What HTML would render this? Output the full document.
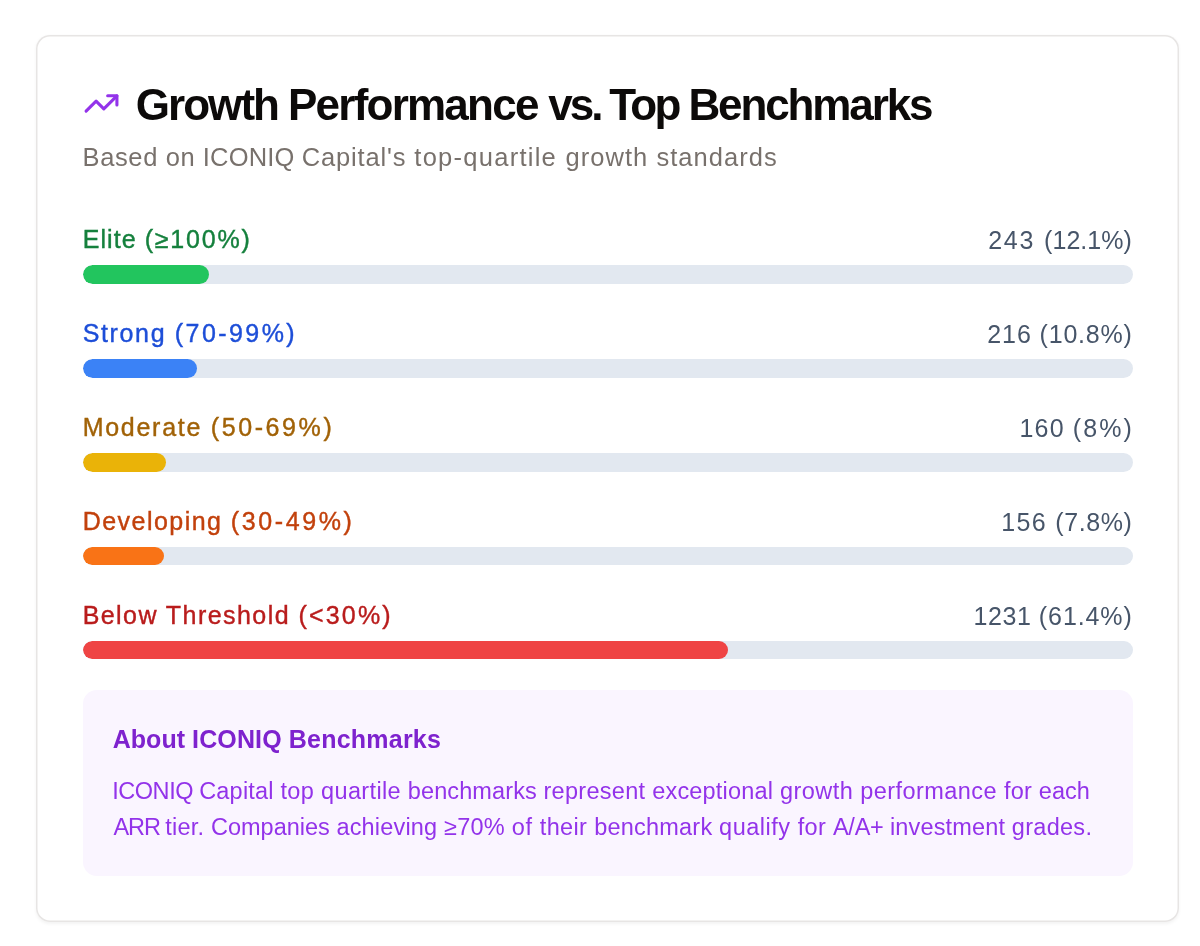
<!DOCTYPE html>
<html lang="en">
<head>
<meta charset="utf-8">
<title>Growth Performance vs. Top Benchmarks</title>
<style>
  html,body{margin:0;padding:0;background:#fff;}
  body{width:1200px;height:946px;overflow:hidden;font-family:"Liberation Sans",Arial,sans-serif;}
  .card{position:absolute;left:36px;top:35px;width:1143px;height:887px;box-sizing:border-box;border-radius:14px;background:#fff;box-shadow:inset 0 0 0 1.5px #e7e5e4, 0 1.75px 3.5px 0 rgba(0,0,0,.05);}
  .inner{position:absolute;left:46.65px;top:0;width:1050px;}
  .hdr{position:absolute;left:0;top:51px;height:36px;display:flex;align-items:center;white-space:nowrap;}
  .hdr svg{display:block;width:37px;height:37px;margin-right:17px;flex:none;position:relative;left:.1px;top:-.5px}
  h1{margin:0;font-size:44px;line-height:36px;font-weight:700;color:#0c0a09;position:relative;top:1px;left:0px}
  .sub{position:absolute;left:-0.11px;top:104px;margin:0;font-size:25.5px;line-height:36px;color:#78716c;white-space:nowrap;}
  .rows{position:absolute;left:0;top:187.3px;width:1050px;}
  .row{height:93.86px;}
  .lbl{display:flex;justify-content:space-between;align-items:baseline;height:35px;line-height:35px;font-size:25px;margin-bottom:8px;white-space:nowrap;}
  .lbl b{font-weight:400;-webkit-text-stroke:.4px currentColor;position:relative;left:0px}
  .lbl span{color:#475569;position:relative;left:-.8px;top:1px}
  .lbl i{font-style:normal}
  .track{height:18.6px;border-radius:9.5px;background:#e2e8f0;overflow:hidden;}
  .fill{height:100%;border-radius:9.5px;}
  .note{position:absolute;left:0;top:654.5px;width:1050px;height:186.2px;box-sizing:border-box;background:#faf5ff;border-radius:14px;}
  .note h4{margin:0;position:absolute;left:30.05px;top:31.4px;font-size:25px;line-height:36px;font-weight:700;color:#7e22ce;white-space:nowrap;}
  .note p{margin:0;position:absolute;left:29.53px;top:83.2px;font-size:23.5px;line-height:36.4px;color:#9333ea;white-space:nowrap;}
  #t1{letter-spacing:-1.93px;margin-left:-0.99px}
  #t2{letter-spacing:-1.77px;margin-left:-2.25px}
  #t3{letter-spacing:-2.91px;margin-left:-1.62px}
  #t4{letter-spacing:-2.6px;margin-left:-3.78px}
  #t5{letter-spacing:-2.11px;margin-left:-2.52px}
  #p2{position:relative;left:1.36px}
  .sub i,.note i{font-style:normal}
#sub_0{letter-spacing:0.62px}#sub_1{letter-spacing:0.59px}#sub_2{letter-spacing:0.16px}#sub_3{letter-spacing:0.85px}#sub_4{letter-spacing:1.26px}#sub_5{letter-spacing:1.07px}#sub_6{letter-spacing:1.02px}
#h4_0{letter-spacing:0.04px}#h4_1{letter-spacing:0.13px}#h4_2{letter-spacing:0.22px}
#p1_0{letter-spacing:-0.44px}#p1_1{letter-spacing:0.2px}#p1_2{letter-spacing:0.35px}#p1_3{letter-spacing:0.35px}#p1_4{letter-spacing:0.1px}#p1_5{letter-spacing:0.29px}#p1_6{letter-spacing:0.19px}#p1_7{letter-spacing:0.47px}#p1_8{letter-spacing:0.44px}#p1_9{letter-spacing:0.2px}#p1_10{letter-spacing:0.07px}
#p2_0{letter-spacing:-1.11px}#p2_1{letter-spacing:0.21px}#p2_2{letter-spacing:0.01px}#p2_3{letter-spacing:0.18px}#p2_4{letter-spacing:0.24px}#p2_5{letter-spacing:0.63px}#p2_6{letter-spacing:0.37px}#p2_7{letter-spacing:0.21px}#p2_8{letter-spacing:0.51px}#p2_9{letter-spacing:0.32px}#p2_10{letter-spacing:-0.22px}#p2_11{letter-spacing:0.16px}#p2_12{letter-spacing:0.28px}
  #l1a{letter-spacing:1.09px} #l1b{letter-spacing:1.78px}
  #l2a{letter-spacing:1.65px} #l2b{letter-spacing:2.43px}
  #l3a{letter-spacing:1.73px} #l3b{letter-spacing:2.59px}
  #l4a{letter-spacing:1.47px} #l4b{letter-spacing:2.6px}
  #l5a{letter-spacing:1.44px} #l5b{letter-spacing:2.2px}
  #v1a{letter-spacing:1.83px} #v1b{letter-spacing:0.03px;margin-right:calc(-1 * 0.03px)}
  #v2a{letter-spacing:0.94px} #v2b{letter-spacing:0.78px;margin-right:calc(-1 * 0.78px)}
  #v3a{letter-spacing:1.15px} #v3b{letter-spacing:2.07px;margin-right:calc(-1 * 2.07px)}
  #v4a{letter-spacing:1.3px} #v4b{letter-spacing:0.6px;margin-right:calc(-1 * 0.6px)}
  #v5a{letter-spacing:0.54px} #v5b{letter-spacing:0.91px;margin-right:calc(-1 * 0.91px)}
</style>
</head>
<body>
<div class="card">
 <div class="inner">
  <div class="hdr">
    <svg viewBox="0 0 24 24" fill="none" stroke="#9333ea" stroke-width="2" stroke-linecap="round" stroke-linejoin="round"><polyline points="22 7 13.5 15.5 8.5 10.5 2 17"/><polyline points="16 7 22 7 22 13"/></svg>
    <h1 id="title"><span id="t1">Growth</span> <span id="t2">Performance</span> <span id="t3">vs.</span> <span id="t4">Top</span> <span id="t5">Benchmarks</span></h1>
  </div>
  <p class="sub" id="sub"><i id="sub_0">Based </i><i id="sub_1">on </i><i id="sub_2">ICONIQ </i><i id="sub_3">Capital's </i><i id="sub_4">top-quartile </i><i id="sub_5">growth </i><i id="sub_6">standards</i></p>
  <div class="rows">
    <div class="row"><div class="lbl"><b style="color:#15803d"><i id="l1a">Elite </i><i id="l1b">(≥100%)</i></b><span><i id="v1a">243 </i><i id="v1b">(12.1%)</i></span></div><div class="track"><div class="fill" style="width:126.7px;background:#22c55e"></div></div></div>
    <div class="row"><div class="lbl"><b style="color:#1d4ed8"><i id="l2a">Strong </i><i id="l2b">(70-99%)</i></b><span><i id="v2a">216 </i><i id="v2b">(10.8%)</i></span></div><div class="track"><div class="fill" style="width:114px;background:#3b82f6"></div></div></div>
    <div class="row"><div class="lbl"><b style="color:#a16207"><i id="l3a">Moderate </i><i id="l3b">(50-69%)</i></b><span><i id="v3a">160 </i><i id="v3b">(8%)</i></span></div><div class="track"><div class="fill" style="width:83.8px;background:#eab308"></div></div></div>
    <div class="row"><div class="lbl"><b style="color:#c2410c"><i id="l4a">Developing </i><i id="l4b">(30-49%)</i></b><span><i id="v4a">156 </i><i id="v4b">(7.8%)</i></span></div><div class="track"><div class="fill" style="width:81.2px;background:#f97316"></div></div></div>
    <div class="row"><div class="lbl"><b style="color:#b91c1c"><i id="l5a">Below Threshold </i><i id="l5b">(&lt;30%)</i></b><span><i id="v5a">1231 </i><i id="v5b">(61.4%)</i></span></div><div class="track"><div class="fill" style="width:645px;background:#ef4444"></div></div></div>
  </div>
  <div class="note">
    <h4 id="h4"><i id="h4_0">About </i><i id="h4_1">ICONIQ </i><i id="h4_2">Benchmarks</i></h4>
    <p><span id="p1"><i id="p1_0">ICONIQ </i><i id="p1_1">Capital </i><i id="p1_2">top </i><i id="p1_3">quartile </i><i id="p1_4">benchmarks </i><i id="p1_5">represent </i><i id="p1_6">exceptional </i><i id="p1_7">growth </i><i id="p1_8">performance </i><i id="p1_9">for </i><i id="p1_10">each</i></span><br><span id="p2"><i id="p2_0">ARR </i><i id="p2_1">tier. </i><i id="p2_2">Companies </i><i id="p2_3">achieving </i><i id="p2_4">≥70% </i><i id="p2_5">of </i><i id="p2_6">their </i><i id="p2_7">benchmark </i><i id="p2_8">qualify </i><i id="p2_9">for </i><i id="p2_10">A/A+ </i><i id="p2_11">investment </i><i id="p2_12">grades.</i></span></p>
  </div>
 </div>
</div>
</body>
</html>
